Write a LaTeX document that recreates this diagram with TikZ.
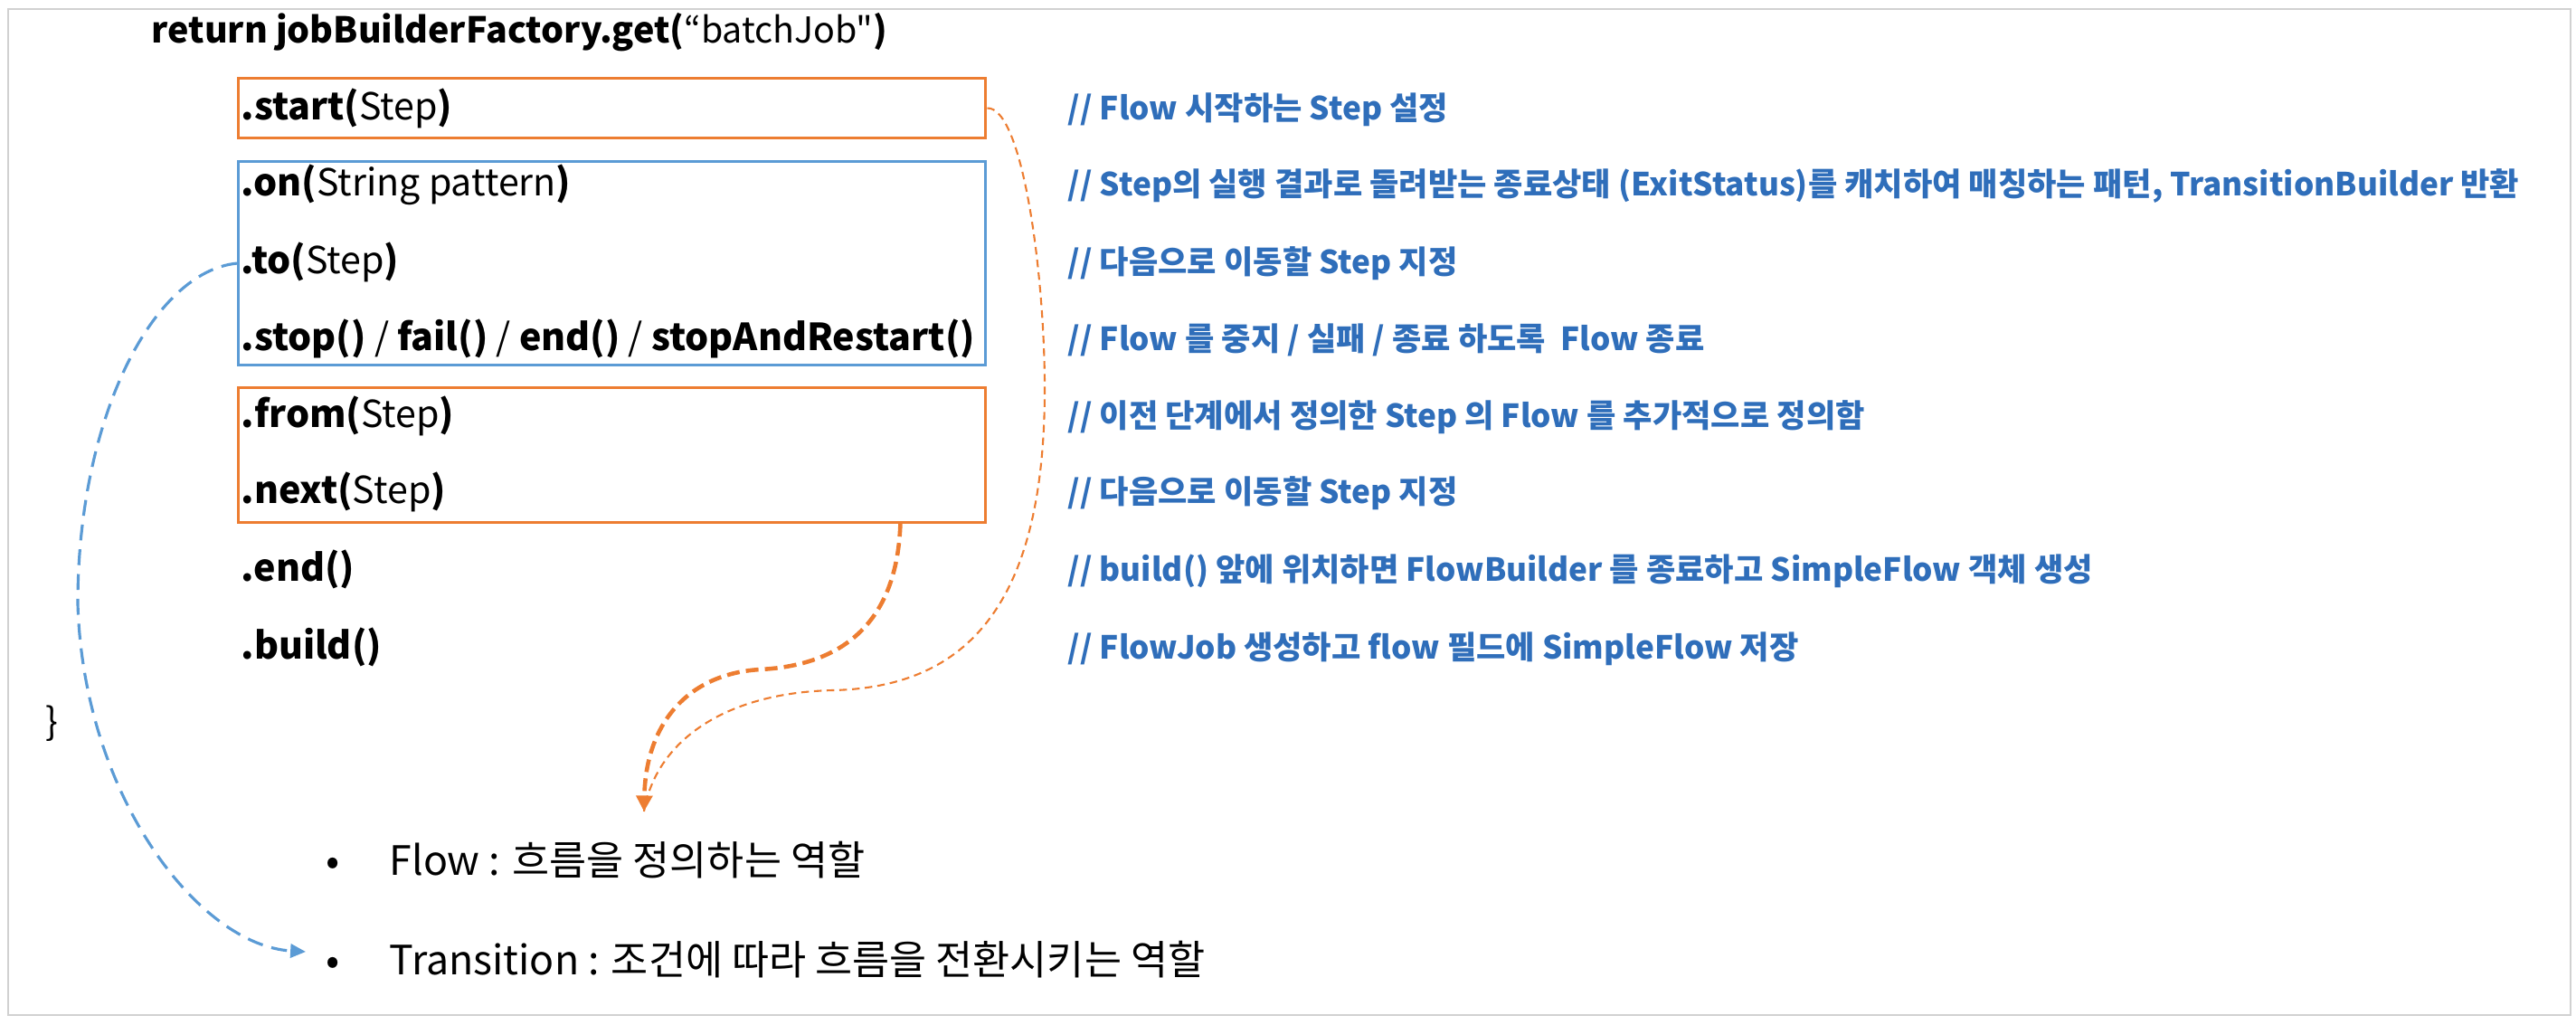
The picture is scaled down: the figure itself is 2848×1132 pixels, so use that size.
\documentclass[tikz,border=0pt]{standalone}
\usepackage{fontspec}
\setmainfont{Noto Sans CJK KR}[Ligatures=TeXOff]
\usepackage{tikz}
\usetikzlibrary{arrows.meta, positioning, calc}
\definecolor{boxOrange}{HTML}{ED7D31}
\definecolor{boxBlue}{HTML}{5B9BD5}
\definecolor{noteBlue}{HTML}{2F6EBA}
\tikzset{
    codeLine/.style={anchor=base west, inner sep=0pt, font=\fontsize{11.7}{14}\selectfont},
    returnLine/.style={anchor=base west, inner sep=0pt, font=\fontsize{11.2}{14}\selectfont},
    noteLine/.style={anchor=base west, inner sep=0pt, text=noteBlue, font=\fontsize{10}{12}\selectfont\bfseries},
    bulletLine/.style={anchor=base west, inner sep=0pt, font=\fontsize{12.7}{15}\selectfont},
    orangeBox/.style={draw=boxOrange, line width=0.85pt, anchor=north west, inner sep=0pt},
    blueBox/.style={draw=boxBlue, line width=0.85pt, anchor=north west, inner sep=0pt},
    flowLine/.style={draw=boxOrange, line width=1.3pt, dash pattern=on 4pt off 2pt},
    startLine/.style={draw=boxOrange, line width=0.6pt, dash pattern=on 2.4pt off 1.6pt},
    transLine/.style={draw=boxBlue, line width=0.9pt, dash pattern=on 5pt off 2.8pt}
}

\begin{document}
\begin{tikzpicture}[x=0.01cm, y=-0.01cm]

        % --- Frame ---
        \useasboundingbox (0,0) rectangle (2848,1132);
        \draw[black!18, line width=0.8pt] (9,10) rectangle (2842,1122);

        % --- Boxes ---
        \node[orangeBox, minimum width=8.26cm, minimum height=0.66cm] (startBox) at (262,85) {};
        \node[blueBox, minimum width=8.26cm, minimum height=2.25cm] (onBox) at (262,177) {};
        \node[orangeBox, minimum width=8.26cm, minimum height=1.49cm] (fromBox) at (262,427) {};

        % 1. Code lines
        \node[returnLine] (returnTxt) at (167,47) {\textbf{return jobBuilderFactory.get(}“batchJob"\textbf{)}};
        \node[codeLine] (startTxt) at (266,132) {\textbf{.start(}Step\textbf{)}};
        \node[codeLine] (onTxt) at (266,216) {\textbf{.on(}String pattern\textbf{)}};
        \node[codeLine] (toTxt) at (266,302) {\textbf{.to(}Step\textbf{)}};
        \node[codeLine] (stopTxt) at (266,387) {\textbf{.stop()} / \textbf{fail()} / \textbf{end()} / \textbf{stopAndRestart()}};
        \node[codeLine] (fromTxt) at (266,472) {\textbf{.from(}Step\textbf{)}};
        \node[codeLine] (nextTxt) at (266,556) {\textbf{.next(}Step\textbf{)}};
        \node[codeLine] (endTxt) at (266,642) {\textbf{.end()}};
        \node[codeLine] (buildTxt) at (266,728) {\textbf{.build()}};
        \node[codeLine] (closeTxt) at (50,812) {\}};

        % 2. Comments
        \node[noteLine] (startNote) at (1180,132) {// Flow 시작하는 Step 설정};
        \node[noteLine] (onNote) at (1180,216) {// Step의 실행 결과로 돌려받는 종료상태 (ExitStatus)를 캐치하여 매칭하는 패턴, TransitionBuilder 반환};
        \node[noteLine] (toNote) at (1180,302) {// 다음으로 이동할 Step 지정};
        \node[noteLine] (stopNote) at (1180,387) {// Flow 를 중지 / 실패 / 종료 하도록\ \ Flow 종료};
        \node[noteLine] (fromNote) at (1180,472) {// 이전 단계에서 정의한 Step 의 Flow 를 추가적으로 정의함};
        \node[noteLine] (nextNote) at (1180,556) {// 다음으로 이동할 Step 지정};
        \node[noteLine] (endNote) at (1180,642) {// build() 앞에 위치하면 FlowBuilder 를 종료하고 SimpleFlow 객체 생성};
        \node[noteLine] (buildNote) at (1180,728) {// FlowJob 생성하고 flow 필드에 SimpleFlow 저장};

        % 3. Bullets
        \node[bulletLine] (flowDot) at (360,967) {\textbullet};
        \node[bulletLine] (flowTxt) at (430,967) {Flow : 흐름을 정의하는 역할};
        \node[bulletLine] (transDot) at (360,1077) {\textbullet};
        \node[bulletLine] (transTxt) at (430,1077) {Transition : 조건에 따라 흐름을 전환시키는 역할};

        % 4. Dashed connectors
        \coordinate (flowTip) at (712,897);
        \coordinate (transTip) at (338,1052);
        \draw[startLine] (startBox.east) .. controls (1130,118) and (1155,300) .. (1155,430)
            .. controls (1155,680) and (1060,760) .. (920,763)
            .. controls (800,766) and (725,820) .. (flowTip);
        \draw[flowLine, -{Triangle[length=5pt, width=5pt]}] ([xshift=-0.96cm]fromBox.south east)
            .. controls (992,680) and (940,735) .. (840,740)
            .. controls (760,745) and (714,800) .. (flowTip);
        \draw[transLine, -{Triangle[length=4.8pt, width=4.3pt]}] (onBox.west)
            .. controls (170,300) and (86,460) .. (86,667)
            .. controls (92,880) and (220,1045) .. (transTip);

    \end{tikzpicture}
\end{document}
